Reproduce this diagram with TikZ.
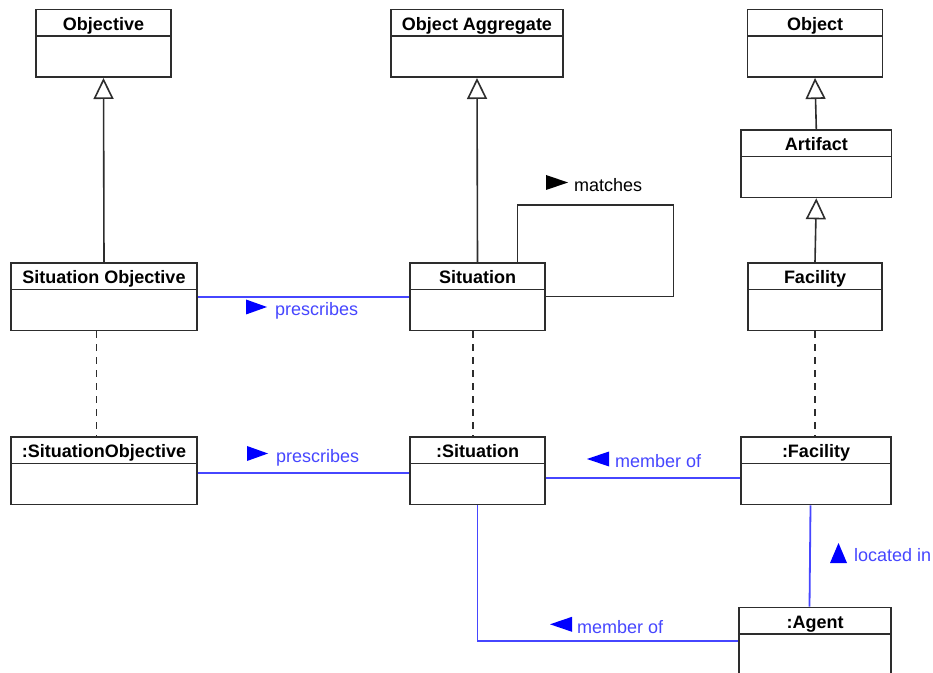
\documentclass[tikz,border=0pt]{standalone}
\usepackage{fontspec}
\setmainfont{Liberation Sans}
\usetikzlibrary{shapes.multipart,arrows.meta}

\definecolor{umlline}{RGB}{45,45,45}
\definecolor{assocblue}{RGB}{70,70,255}
\definecolor{tipblue}{RGB}{0,0,255}

% header and body of a class box
\newcommand{\classhead}[1]{\rule[-5pt]{0pt}{25pt}#1\nodepart{second}\rule{0pt}{39.5pt}}

\begin{document}
\begin{tikzpicture}[
            x = 1pt, y = 1pt, % one unit per pixel
            umlclass/.style = {rectangle split, rectangle split parts=2, draw=umlline,
                line width=1.6pt, fill=white, inner xsep=0pt, inner ysep=0pt,
                anchor=north, font=\fontsize{18}{21}\selectfont\bfseries},
            generalize/.style = {draw=umlline, line width=1.6pt,
                -{Triangle[length=21pt, width=20pt, fill=white]}},
            realize/.style = {draw=umlline, line width=1.4pt, dash pattern=on 7pt off 6pt},
            assoc/.style = {draw=assocblue, line width=1.8pt},
            role/.style = {inner sep=0pt, anchor=base west,
                font=\fontsize{18}{21}\selectfont, text=assocblue}
        ]
\useasboundingbox (0,0) rectangle (933,672);

% classes
\node[umlclass, minimum width=134.7pt] (Objective) at (103.5,663.3) {\classhead{Objective}};
\node[umlclass, minimum width=171.7pt] (Aggregate) at (477,663.3) {\classhead{Object Aggregate}};
\node[umlclass, minimum width=135pt] (Object) at (815,663.3) {\classhead{Object}};
\node[umlclass, minimum width=150.7pt] (Artifact) at (816.3,543) {\classhead{Artifact}};
\node[umlclass, minimum width=186.3pt] (SitObj) at (104,410) {\classhead{Situation Objective}};
\node[umlclass, minimum width=134.6pt] (Sit) at (477.5,410) {\classhead{Situation}};
\node[umlclass, minimum width=134pt] (Facility) at (815,410) {\classhead{Facility}};

% instances
\node[umlclass, minimum width=186.3pt] (SitObjI) at (104,236) {\classhead{:SituationObjective}};
\node[umlclass, minimum width=134.6pt] (SitI) at (477.5,236) {\classhead{:Situation}};
\node[umlclass, minimum width=150.3pt] (FacilityI) at (816,236) {\classhead{:Facility}};
\node[umlclass, minimum width=152pt] (AgentI) at (815,65.3) {\classhead{:Agent}};

% generalizations
\draw[generalize] (SitObj.north) -- (Objective.south);
\draw[generalize] (Sit.north) -- (Aggregate.south);
\draw[generalize] (Artifact.north) -- (Object.south);
\draw[generalize] (Facility.north) -- (Artifact.south);

% instance of
\draw[realize] ([xshift=-7.5]SitObj.south) -- ([xshift=-7.5]SitObjI.north);
\draw[realize] ([xshift=-4.5]Sit.south) -- ([xshift=-4.5]SitI.north);
\draw[realize] (Facility.south) -- (Facility.south |- FacilityI.north);

% matches
\draw[draw=umlline, line width=1.6pt] ([xshift=40]Sit.north) -- ++(0,57) -| ([xshift=128]Sit.east) -- (Sit.east);
\node[role, text=black] (matches) at (574,480.5) {matches};
\fill[black] ([shift={(-6,9)}]matches.base west) -- ++(-22,7.5) -- ++(0,-15) -- cycle;

% associations
\draw[assoc] (SitObj.east) -- (Sit.west);
\node[role] (presc) at (275,356) {prescribes};
\fill[tipblue] ([shift={(-8,9)}]presc.base west) -- ++(-21,7.5) -- ++(0,-15) -- cycle;

\draw[assoc] ([yshift=-2]SitObjI.east) -- ([yshift=-2]SitI.west);
\node[role] (prescI) at (276,210) {prescribes};
\fill[tipblue] ([shift={(-8,8.5)}]prescI.base west) -- ++(-21,7.5) -- ++(0,-15) -- cycle;

\draw[assoc] ([yshift=-7]SitI.east) -- ([yshift=-7]FacilityI.west);
\node[role] (memberA) at (615,204.3) {member of};
\fill[tipblue] ([shift={(-28,8.7)}]memberA.base west) -- ++(22,7.5) -- ++(0,-15) -- cycle;

\draw[assoc] ([xshift=-5.5]FacilityI.south) -- ([xshift=-5.5]AgentI.north);
\node[role] (located) at (854,110.3) {located in};
\fill[tipblue] ([shift={(-15.5,18.7)}]located.base west) -- ++(-8.5,-20) -- ++(17,0) -- cycle;

\draw[assoc] (SitI.south) |- (AgentI.west);
\node[role] (memberB) at (577,38.7) {member of};
\fill[tipblue] ([shift={(-27,9)}]memberB.base west) -- ++(22,7.5) -- ++(0,-15) -- cycle;
\end{tikzpicture}
\end{document}
